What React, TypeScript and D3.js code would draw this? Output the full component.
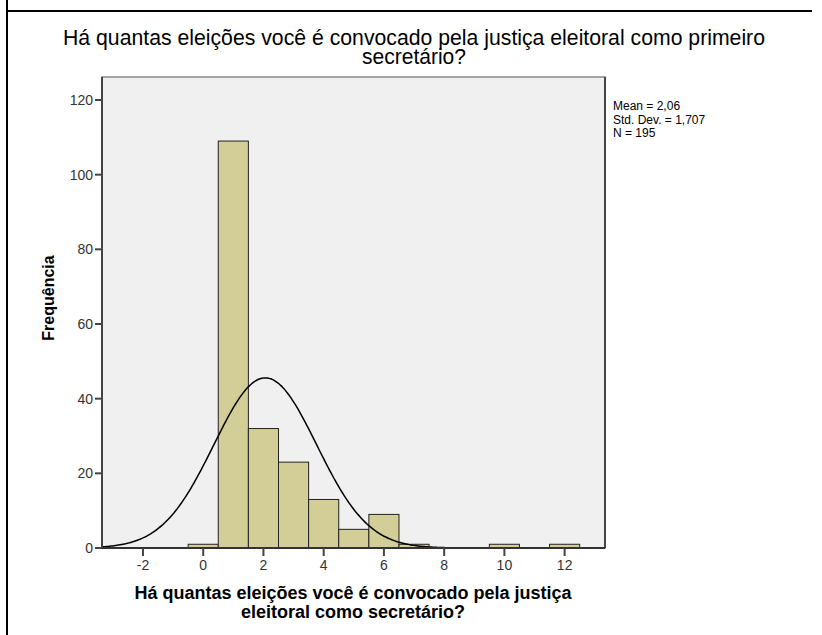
import React from "react";
import * as d3 from "d3";

const categories = [0, 1, 2, 3, 4, 5, 6, 7, 8, 9, 10, 11, 12];
const counts = [1, 109, 32, 23, 13, 5, 9, 1, 0, 0, 1, 0, 1];
const xTicks = [-2, 0, 2, 4, 6, 8, 10, 12];
const yTicks = [0, 20, 40, 60, 80, 100, 120];
const statMean = 2.06;
const statSd = 1.707;
const statN = 195;
const legendLines = ["Mean = 2,06", "Std. Dev. = 1,707", "N = 195"];
const titleLines = [
  "Há quantas eleições você é convocado pela justiça eleitoral como primeiro",
  "secretário?",
];
const titleWidths = [702, 104];
const xLabelLines = [
  "Há quantas eleições você é convocado pela justiça",
  "eleitoral como secretário?",
];
const yLabel = "Frequência";

const W = 822;
const H = 635;
const plot = { left: 102, right: 605, top: 77, bottom: 548 };
const FONT = "'Liberation Sans', Arial, sans-serif";

export default function App() {
  const x = d3.scaleLinear().domain([-3.36, 13.34]).range([plot.left, plot.right]);
  const y = d3.scaleLinear().domain([0, 120]).range([plot.bottom, 100]);

  const pdf = (v: number) =>
    (statN / (statSd * Math.sqrt(2 * Math.PI))) *
    Math.exp(-0.5 * ((v - statMean) / statSd) ** 2);
  const curvePts = d3.range(-3.36, 13.34 + 0.001, 0.05).map((v) => [v, pdf(v)] as [number, number]);
  const line = d3
    .line<[number, number]>()
    .x((d) => x(d[0]))
    .y((d) => y(d[1]))
    .curve(d3.curveBasis);

  const bars = categories
    .map((c, i) => ({ c, n: counts[i] }))
    .filter((d) => d.n > 0);

  return (
    <svg
      width={W}
      height={H}
      style={{ position: "absolute", left: 0, top: 0, background: "#fff" }}
      fontFamily={FONT}
    >
      {/* outer frame */}
      <line x1={7} y1={0} x2={7} y2={H} stroke="#000" strokeWidth={2} />
      <line x1={7} y1={11} x2={812} y2={11} stroke="#000" strokeWidth={2} />

      {/* title */}
      {titleLines.map((t, i) => (
        <text
          key={i}
          x={414}
          y={45 + i * 19}
          textAnchor="middle"
          fontSize={21.5}
          textLength={titleWidths[i]}
          lengthAdjust="spacingAndGlyphs"
          fill="#000"
        >
          {t}
        </text>
      ))}

      {/* plot background */}
      <rect
        x={plot.left}
        y={plot.top}
        width={plot.right - plot.left}
        height={plot.bottom - plot.top}
        fill="#f0f0f0"
        stroke="#888"
        strokeWidth={1.5}
      />
      <line x1={plot.right} y1={plot.top} x2={plot.right} y2={plot.bottom} stroke="#444" strokeWidth={2} />

      {/* bars */}
      {bars.map((d) => (
        <rect
          key={d.c}
          x={x(d.c - 0.5)}
          y={y(d.n)}
          width={x(d.c + 0.5) - x(d.c - 0.5)}
          height={plot.bottom - y(d.n)}
          fill="#d3ce97"
          stroke="#222"
          strokeWidth={1}
        />
      ))}

      {/* normal curve */}
      <path d={line(curvePts) || ""} fill="none" stroke="#000" strokeWidth={1.5} />

      {/* axes */}
      <line x1={plot.left} y1={plot.top} x2={plot.left} y2={plot.bottom} stroke="#444" strokeWidth={2} />
      <line x1={plot.left} y1={plot.bottom} x2={plot.right} y2={plot.bottom} stroke="#333" strokeWidth={2} />

      {yTicks.map((t) => (
        <g key={t}>
          <line x1={plot.left - 7} y1={y(t)} x2={plot.left} y2={y(t)} stroke="#444" strokeWidth={2} />
          <text
            x={plot.left - 9}
            y={y(t) + 5}
            textAnchor="end"
            fontSize={14}
            fill="#333"
          >
            {t}
          </text>
        </g>
      ))}

      {xTicks.map((t) => (
        <g key={t}>
          <line x1={x(t)} y1={plot.bottom} x2={x(t)} y2={plot.bottom + 8} stroke="#444" strokeWidth={2} />
          <text x={x(t)} y={plot.bottom + 22} textAnchor="middle" fontSize={14} fill="#333">
            {t < 0 ? "-" + Math.abs(t) : String(t)}
          </text>
        </g>
      ))}

      {/* axis labels */}
      {xLabelLines.map((t, i) => (
        <text
          key={i}
          x={353}
          y={599 + i * 18.5}
          textAnchor="middle"
          fontSize={18}
          fontWeight="bold"
          fill="#000"
        >
          {t}
        </text>
      ))}
      <text
        transform={`translate(54, 298) rotate(-90)`}
        textAnchor="middle"
        fontSize={16}
        fontWeight="bold"
        fill="#000"
      >
        {yLabel}
      </text>

      {/* legend */}
      {legendLines.map((t, i) => (
        <text key={i} x={613} y={110 + i * 13.5} fontSize={12} fill="#000">
          {t}
        </text>
      ))}
    </svg>
  );
}
